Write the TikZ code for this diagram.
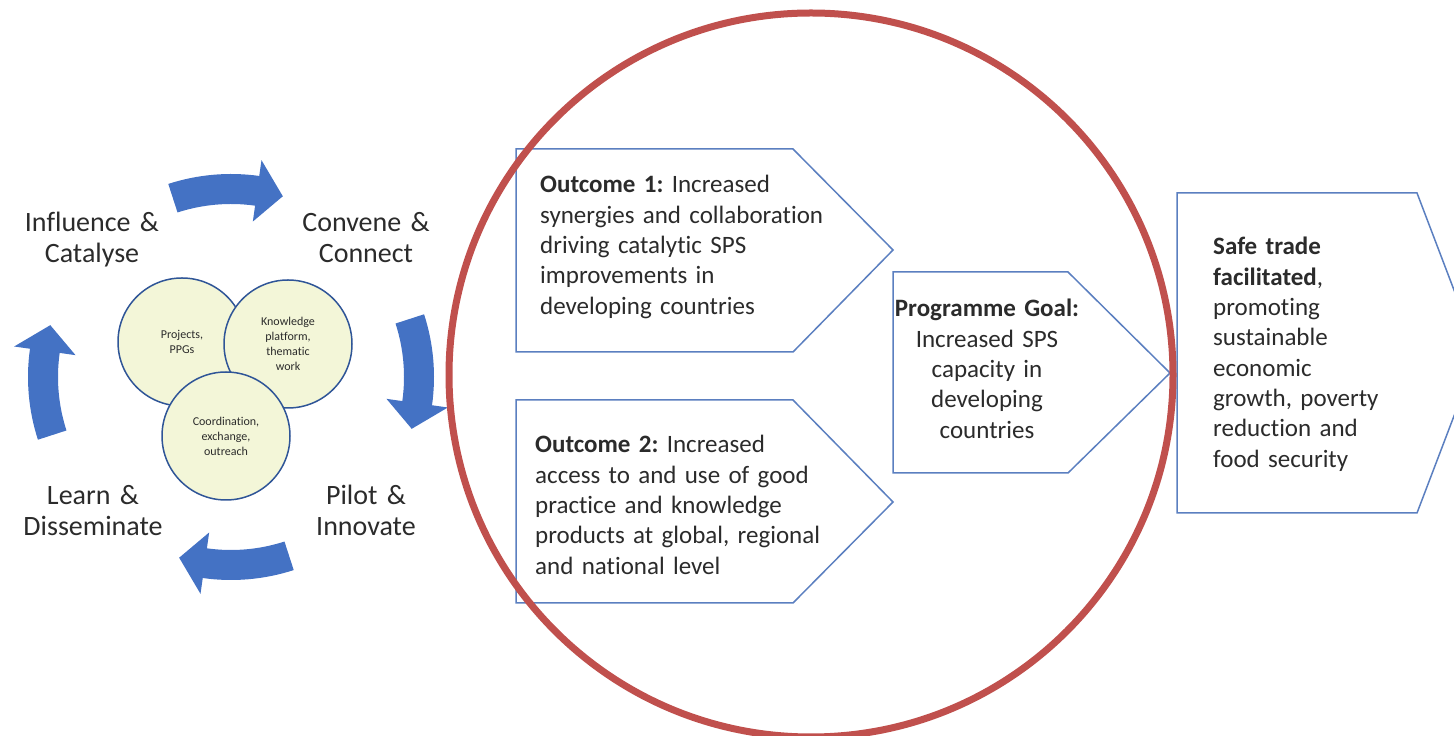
\documentclass[tikz,border=0pt]{standalone}
\usepackage{fontspec}
\setmainfont{Carlito}[Ligatures=NoCommon]
\usepackage{tikz}
\pgfdeclarelayer{edgelayer}
\pgfdeclarelayer{nodelayer}
\pgfsetlayers{edgelayer,nodelayer,main}
\frenchspacing

\definecolor{arrowblue}{HTML}{4472C4}
\definecolor{boxblue}{HTML}{5B7FC0}
\definecolor{ringblue}{HTML}{2F5597}
\definecolor{bubblefill}{HTML}{F3F6D8}
\definecolor{ringred}{HTML}{C0504D}
\definecolor{textgray}{HTML}{2B2B2B}

\tikzset{
  cyclelabel/.style={font=\fontsize{28}{31}\selectfont, text=textgray, text width=180, align=center, inner sep=0, anchor=base},
  bubble/.style={circle, draw=ringblue, line width=1.5, fill=bubblefill, minimum size=128, inner sep=0,
                 font=\fontsize{12}{15}\selectfont, text=textgray, align=center},
  cyclearrow/.style={fill=arrowblue},
  chevron/.style={draw=boxblue, line width=1.5, fill=white},
  boxtext/.style={font=\fontsize{25}{30.3}\selectfont, text=textgray, inner sep=0},
}

\begin{document}
\begin{tikzpicture}[x=1pt, y=1pt]
\useasboundingbox (0,0) rectangle (1454,736);
	\begin{pgfonlayer}{edgelayer}
		% cycle arrows
		\begin{scope}[shift={(231,359)}]
			\foreach \a in {94,4,-86,-176}
				\fill[cyclearrow] (\a+14:203) arc[start angle=\a+14, end angle=\a-12, radius=203]
					-- (\a-12:219) -- (\a-20:188) -- (\a-12:157) -- (\a-12:173)
					arc[start angle=\a-12, end angle=\a+14, radius=173] -- cycle;
		\end{scope}
		% chevrons
		\draw[chevron] (516,587) -- (793,587) -- (893,486) -- (793,384) -- (516,384) -- cycle;
		\draw[chevron] (516,336) -- (793,336) -- (893,234) -- (793,133) -- (516,133) -- cycle;
		\draw[chevron] (893,464) -- (1068,464) -- (1170,363) -- (1068,263) -- (893,263) -- cycle;
		\draw[chevron] (1177,543) -- (1417,543) -- (1478,383) -- (1417,223) -- (1177,223) -- cycle;
	\end{pgfonlayer}
	\begin{pgfonlayer}{nodelayer}
		\node[cyclelabel] (influence) at (92,504) {Influence \&\\Catalyse};
		\node[cyclelabel] (convene) at (366,504) {Convene \&\\Connect};
		\node[cyclelabel] (learn) at (93,231) {Learn \&\\Disseminate};
		\node[cyclelabel] (pilot) at (366,231) {Pilot \&\\Innovate};
		\node[bubble] (projects) at (182,394) {Projects,\\PPGs};
		\node[bubble] (knowledge) at (288,392) {Knowledge\\platform,\\thematic\\work};
		\node[bubble] (coordination) at (226,300) {Coordination,\\exchange,\\outreach};
		\node[boxtext, text width=300, align=left, anchor=base west] (out1) at (540,543)
			{\textbf{Outcome 1:} Increased\\synergies and collaboration\\driving catalytic SPS\\improvements in\\developing countries};
		\node[boxtext, text width=300, align=left, anchor=base west] (out2) at (535,283)
			{\textbf{Outcome 2:} Increased\\access to and use of good\\practice and knowledge\\products at global, regional\\and national level};
		\node[boxtext, text width=200, align=center, anchor=base] (goal) at (987,419)
			{\textbf{Programme Goal:}\\Increased SPS\\capacity in\\developing\\countries};
		\node[boxtext, text width=200, align=left, anchor=base west] (safe) at (1213,481)
			{\textbf{Safe trade}\\\textbf{facilitated},\\promoting\\sustainable\\economic\\growth, poverty\\reduction and\\food security};
	\end{pgfonlayer}
	\draw[ringred, line width=7] (811,361) circle[radius=362];
\end{tikzpicture}
\end{document}
